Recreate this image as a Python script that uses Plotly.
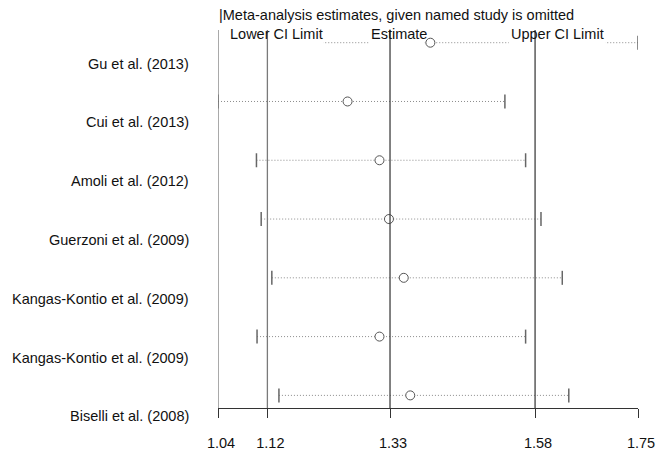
import plotly.graph_objects as go

# ---- data ----
studies = ["Gu et al. (2013)", "Cui et al. (2013)", "Amoli et al. (2012)",
           "Guerzoni et al. (2009)", "Kangas-Kontio et al. (2009)",
           "Kangas-Kontio et al. (2009)", "Biselli et al. (2008)"]
estimate = [1.399, 1.259, 1.313, 1.329, 1.354, 1.313, 1.365]
lower = [1.13, 1.04, 1.105, 1.113, 1.131, 1.106, 1.143]
upper = [1.75, 1.525, 1.560, 1.586, 1.622, 1.560, 1.633]

axis_min = 1.04
overall_lower = 1.1235
overall_est = 1.3308
overall_upper = 1.576
axis_max = 1.75

tick_vals = [axis_min, overall_lower, overall_est, overall_upper, axis_max]
tick_text = ["1.04", "1.12", "1.33", "1.58", "1.75"]

title_text = "|Meta-analysis estimates, given named study is omitted"
header_labels = ["Lower CI Limit", "Estimate", "Upper CI Limit"]

FONT = "Liberation Sans, Arial, sans-serif"
rows = list(range(len(studies)))

fig = go.Figure()

# dotted CI lines
lx, ly = [], []
for r, lo, hi in zip(rows, lower, upper):
    lx += [lo, hi, None]
    ly += [r, r, None]
fig.add_trace(go.Scatter(x=lx, y=ly, mode="lines",
                         line=dict(color="#8c8c8c", width=1, dash="1px,2px"),
                         hoverinfo="skip", showlegend=False))
# caps
fig.add_trace(go.Scatter(x=lower + upper, y=rows + rows, mode="markers",
                         marker=dict(symbol="line-ns", size=10,
                                     line=dict(color="#666666", width=1.5)),
                         hoverinfo="skip", showlegend=False))
# estimates
fig.add_trace(go.Scatter(x=estimate, y=rows, mode="markers",
                         marker=dict(symbol="circle", size=9, color="white",
                                     line=dict(color="#555555", width=1)),
                         showlegend=False))

shapes = []
# white boxes behind header texts (they hide the top row's dotted line)
for x0, x1 in [(1.0564, 1.2186), (1.2948, 1.3895), (1.5315, 1.6955)]:
    shapes.append(dict(type="rect", xref="x", yref="paper", x0=x0, x1=x1,
                       y0=0.876, y1=0.9338, fillcolor="white",
                       line=dict(width=0), layer="above"))
# vertical reference lines
for v, c in [(axis_min, "#7a7a7a"), (overall_lower, "#7a7a7a"),
             (overall_est, "#404040"), (overall_upper, "#404040")]:
    shapes.append(dict(type="line", xref="x", yref="paper", x0=v, x1=v,
                       y0=0, y1=1 - 30 / 408, line=dict(color=c, width=1.3),
                       layer="above"))

annotations = []
for r, s in zip(rows, studies):
    annotations.append(dict(x=axis_min, y=r, xref="x", yref="y", text=s,
                            showarrow=False, xanchor="right", yanchor="middle",
                            xshift=-27, yshift=-21,
                            font=dict(family=FONT, size=14.5, color="#111111")))
for xc, t in zip([1.1387, 1.3455, 1.6134], header_labels):
    annotations.append(dict(x=xc, y=1 - 34 / 408, xref="x", yref="paper", text=t,
                            showarrow=False, xanchor="center", yanchor="middle",
                            font=dict(family=FONT, size=14.5, color="#111111")))
annotations.append(dict(x=axis_min, y=1 - 15 / 408, xref="x", yref="paper",
                        text=title_text, showarrow=False, xanchor="left",
                        yanchor="middle", xshift=-1,
                        font=dict(family=FONT, size=14.5, color="#111111")))

fig.update_layout(
    width=657, height=451,
    margin=dict(l=218, r=19, t=0, b=43, pad=0, autoexpand=False),
    paper_bgcolor="white", plot_bgcolor="white",
    shapes=shapes, annotations=annotations,
    xaxis=dict(range=[axis_min, axis_max], tickmode="array",
               tickvals=tick_vals, ticktext=tick_text, automargin=False,
               ticks="outside", ticklen=9, tickwidth=1, tickcolor="#333333",
               showline=True, linecolor="#333333", linewidth=1,
               showgrid=False, zeroline=False, ticklabelstandoff=13,
               ticklabelshift=3,
               tickfont=dict(family=FONT, size=14.5, color="#111111")),
    yaxis=dict(range=[6.2147, -0.7264], visible=False, showgrid=False,
               zeroline=False, automargin=False),
)

fig.write_html("out.html")
